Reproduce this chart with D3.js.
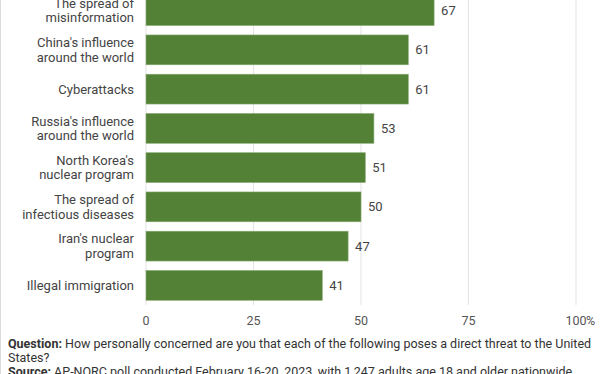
<!DOCTYPE html>
<html>
<head>
<meta charset="utf-8">
<script src="https://cdn.jsdelivr.net/npm/d3@7"></script>
<style>
  body { margin: 0; background: #fff; }
  svg { display: block; font-family: Roboto, "Noto Sans", sans-serif; }
</style>
</head>
<body>
<svg id="chart"></svg>
<script>
// data
const threats = [
  ["The spread of", "misinformation"],
  ["China's influence", "around the world"],
  ["Cyberattacks"],
  ["Russia's influence", "around the world"],
  ["North Korea's", "nuclear program"],
  ["The spread of", "infectious diseases"],
  ["Iran's nuclear", "program"],
  ["Illegal immigration"]
];
const concerned = [67, 61, 61, 53, 51, 50, 47, 41];
const xTicks = [0, 25, 50, 75, 100];

const width = 612, height = 374;

const svg = d3.select("#chart")
    .attr("width", width)
    .attr("height", height);

// left frame line
svg.append("line")
    .attr("x1", 0.5).attr("x2", 0.5)
    .attr("y1", 0).attr("y2", height)
    .attr("stroke", "#dcdcdc");

const x = d3.scaleLinear()
    .domain([0, 100])
    .range([146, 576]);

const y = d3.scaleBand()
    .domain(d3.range(threats.length))
    .range([-9, 305])
    .paddingInner(0.24)
    .paddingOuter(0.12);

// gridlines
svg.append("g")
    .selectAll("line")
    .data(xTicks)
    .enter().append("line")
    .attr("x1", d => x(d)).attr("x2", d => x(d))
    .attr("y1", 0).attr("y2", 305)
    .attr("stroke", "#e3e3e3")
    .attr("stroke-width", 1);

// bars
svg.append("g")
    .selectAll("rect")
    .data(concerned)
    .enter().append("rect")
    .attr("x", x(0))
    .attr("y", (d, i) => y(i))
    .attr("width", d => x(d) - x(0))
    .attr("height", y.bandwidth())
    .attr("fill", "#538135")
    .attr("stroke", "#8aab73")
    .attr("stroke-width", 0.6);

// value labels
svg.append("g")
    .selectAll("text")
    .data(concerned)
    .enter().append("text")
    .attr("x", d => x(d) + 7)
    .attr("y", (d, i) => y(i) + y.bandwidth() / 2)
    .attr("dy", "0.35em")
    .attr("font-size", 13)
    .attr("fill", "#444")
    .text(d => d);

// category labels
const cat = svg.append("g")
    .selectAll("text")
    .data(threats)
    .enter().append("text")
    .attr("x", 134)
    .attr("y", (d, i) => y(i) + y.bandwidth() / 2)
    .attr("text-anchor", "end")
    .attr("font-size", 13)
    .attr("fill", "#444");

cat.each(function(lines) {
    const t = d3.select(this);
    const lh = 14.5;
    lines.forEach((ln, j) => {
        t.append("tspan")
            .attr("x", 134)
            .attr("dy", j === 0 ? ((-(lines.length - 1) / 2) * lh + 4.5) : lh)
            .text(ln);
    });
});

// x axis labels
svg.append("g")
    .selectAll("text")
    .data(xTicks)
    .enter().append("text")
    .attr("x", d => x(d))
    .attr("y", 325)
    .attr("text-anchor", "middle")
    .attr("font-size", 12.5)
    .attr("fill", "#555")
    .text(d => d);

svg.append("text")
    .attr("x", x(100) + 10)
    .attr("y", 325)
    .attr("font-size", 12.5)
    .attr("fill", "#555")
    .text("%");

// notes
const notes = [
  [["Question:", true], [" How personally concerned are you that each of the following poses a direct threat to the United", false]],
  [["States?", false]],
  [["Source:", true], [" AP-NORC poll conducted February 16-20, 2023, with 1,247 adults age 18 and older nationwide.", false]]
];

notes.forEach((parts, i) => {
    const t = svg.append("text")
        .attr("x", 8)
        .attr("y", 348 + i * 14)
        .attr("font-size", 12.5)
        .attr("fill", "#333");
    parts.forEach(p => {
        t.append("tspan")
            .attr("font-weight", p[1] ? "bold" : "normal")
            .text(p[0]);
    });
});
</script>
</body>
</html>
